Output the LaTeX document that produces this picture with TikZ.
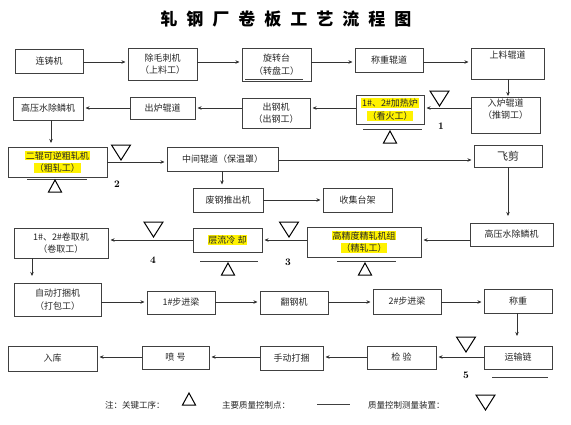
\documentclass[tikz,border=0pt]{standalone}
\usepackage{fontspec}
\newfontfamily\cjk{Noto Sans CJK SC}
\usetikzlibrary{arrows.meta}
\newcommand\hl[1]{{\setlength{\fboxsep}{0.6pt}\colorbox{yellow}{#1}}}
\tikzset{
  box/.style={draw=black!75, line width=0.9pt, inner sep=0pt, outer sep=0pt,
    font=\cjk\fontsize{9}{12.5}\selectfont, text=black!85, align=center},
  bw/.style={minimum width=#1pt},
  bh/.style={minimum height=#1pt},
  arr/.style={-{Stealth[length=4pt,width=3.5pt]}, draw=black!80, line width=0.8pt, shorten >=2.5pt},
  tri/.style={draw=black, line width=1pt, line join=miter},
  qline/.style={draw=black!75, line width=1pt},
  num/.style={font=\bfseries\fontsize{10}{12}\selectfont, inner sep=0pt},
  leg/.style={font=\cjk\fontsize{8.5}{10}\selectfont, text=black!85, anchor=west, inner sep=0pt},
  downtri/.pic={\draw[tri] (-9.5,0) -- (9.5,0) -- (0,15) -- cycle;},
  uptri/.pic={\draw[tri] (-6.5,0) -- (6.5,0) -- (0,-12) -- cycle;},
}
\begin{document}
\begin{tikzpicture}[x=1pt,y=-1pt]
\useasboundingbox[fill=white] (0,0) rectangle (571,424);
% title
\node[font=\cjk\bfseries\fontsize{17}{20}\selectfont, inner sep=0pt] (title) at (286,19)
  {轧\kern9pt 钢\kern9pt 厂\kern9pt 卷\kern9pt 板\kern9pt 工\kern9pt 艺\kern9pt 流\kern9pt 程\kern9pt 图};
% row A
\node[box,bw=68,bh=24] (a1) at (49,61) {连铸机};
\node[box,bw=69,bh=32] (a2) at (162.5,64) {除毛刺机\\（上料工）};
\node[box,bw=69,bh=33] (a3) at (276.5,64.5) {旋转台\\（转盘工）};
\node[box,bw=68,bh=24] (a4) at (389,60) {称重辊道};
\node[box,bw=73,bh=31] (a5) at (507.5,63.5) {上料辊道\\[2pt]\strut};
\draw[qline] (245,79) -- (303,79);
\draw[arr] (a1.east |- 0,62) -- (a2.west |- 0,62);
\draw[arr] (a2.east |- 0,62) -- (a3.west |- 0,62);
\draw[arr] (a3.east |- 0,62) -- (a4.west |- 0,62);
\draw[arr] (a4.east |- 0,62) -- (a5.west |- 0,62);
% row B
\node[box,bw=70,bh=23] (b1) at (48,108.5) {高压水除鳞机};
\node[box,bw=65,bh=22] (b2) at (162.5,108) {出炉辊道};
\node[box,bw=68,bh=30] (b3) at (276,113) {出钢机\\（出钢工）};
\node[box,bw=68,bh=29] (b4) at (390,109.5) {\hl{1\#、2\#加热炉}\\\hl{（看火工）}};
\node[box,bw=69,bh=36] (b5) at (505.5,115) {入炉辊道\\（推钢工）\\[-4pt]\strut};
\draw[arr, shorten >=1pt] (a5.south -| 508,0) -- (b5.north -| 508,0);
\draw[arr] (b5.west |- 0,108) -- (b4.east |- 0,108);
\draw[arr] (b4.west |- 0,108) -- (b3.east |- 0,108);
\draw[arr] (b3.west |- 0,108) -- (b2.east |- 0,108);
\draw[arr] (b2.west |- 0,108) -- (b1.east |- 0,108);
\draw[qline] (363,129) -- (422,129);
\pic at (390,143) {uptri};
\pic at (439.5,91) {downtri};
\node[num] (n1) at (441,126) {1};
% row C
\node[box,bw=99,bh=30] (c1) at (57.5,162) {\hl{二辊可逆粗轧机}\\\hl{（粗轧工）}};
\node[box,bw=111,bh=24] (c2) at (222.5,159) {中间辊道（保温罩）};
\node[box,bw=68,bh=22,font=\cjk\fontsize{11}{13}\selectfont] (c3) at (508,156) {飞剪};
\draw[arr, shorten >=4pt] (b1.south -| 51,0) -- (c1.north -| 51,0);
\draw[arr] (c1.east |- 0,162) -- (c2.west |- 0,162);
\draw[arr] (c2.east |- 0,160) -- (c3.west |- 0,160);
\draw[qline] (27,179) -- (87,179);
\pic at (55,192) {uptri};
\pic at (121,145) {downtri};
\node[num] (n2) at (117,184) {2};
% row D
\node[box,bw=70,bh=24] (d1) at (228,200) {废钢推出机};
\node[box,bw=69,bh=24] (d2) at (357.5,200) {收集台架};
\draw[arr, shorten >=3.5pt] (c2.south -| 222,0) -- (d1.north -| 222,0);
\draw[arr] (d1.east |- 0,200) -- (d2.west |- 0,200);
% row E
\node[box,bw=83,bh=23] (e4) at (511.5,234.5) {高压水除鳞机};
\node[box,bw=114,bh=30] (e3) at (364,242) {\hl{高精度精轧机组}\\\hl{（精轧工）}};
\node[box,bw=69,bh=24] (e2) at (227.5,240) {\hl{层流冷 却}};
\node[box,bw=94,bh=30] (e1) at (61,243) {1\#、2\#卷取机\\（卷取工）};
\draw[arr, shorten >=7pt] (c3.south -| 508,0) -- (e4.north -| 508,0);
\draw[arr] (e4.west |- 0,240) -- (e3.east |- 0,240);
\draw[arr] (e3.west |- 0,240) -- (e2.east |- 0,240);
\draw[arr] (e2.west |- 0,240) -- (e1.east |- 0,240);
\draw[qline] (337,261) -- (396,261);
\pic at (365,275) {uptri};
\draw[qline] (200,261) -- (258,261);
\pic at (228,275) {uptri};
\pic at (289,222) {downtri};
\pic at (153.5,222) {downtri};
\node[num] (n3) at (288,262) {3};
\node[num] (n4) at (153,260) {4};
% row F
\node[box,bw=87,bh=33] (f1) at (57.5,299.5) {自动打捆机\\（打包工）};
\node[box,bw=68,bh=23] (f2) at (181,302.5) {1\#步进梁};
\node[box,bw=68,bh=23] (f3) at (294,302.5) {翻钢机};
\node[box,bw=68,bh=25] (f4) at (407,301.5) {2\#步进梁};
\node[box,bw=68,bh=24] (f5) at (518,301) {称重};
\draw[arr, shorten >=7pt] (e1.south -| 32,0) -- (f1.north -| 32,0);
\draw[arr] (f1.east |- 0,302) -- (f2.west |- 0,302);
\draw[arr] (f2.east |- 0,302) -- (f3.west |- 0,302);
\draw[arr] (f3.east |- 0,302) -- (f4.west |- 0,302);
\draw[arr] (f4.east |- 0,302) -- (f5.west |- 0,302);
% row G
\node[box,bw=68,bh=23] (g5) at (518,357.5) {运输链};
\node[box,bw=69,bh=23] (g4) at (401.5,357.5) {检 验};
\node[box,bw=63,bh=24] (g3) at (291.5,358) {手动打捆};
\node[box,bw=67,bh=23] (g2) at (175.5,357.5) {喷 号};
\node[box,bw=89,bh=25] (g1) at (52.5,358.5) {入库};
\draw[arr, shorten >=10pt] (f5.south -| 517,0) -- (g5.north -| 517,0);
\draw[arr] (g5.west |- 0,357) -- (g4.east |- 0,357);
\draw[arr] (g4.west |- 0,357) -- (g3.east |- 0,357);
\draw[arr] (g3.west |- 0,357) -- (g2.east |- 0,357);
\draw[arr] (g2.west |- 0,357) -- (g1.east |- 0,357);
\draw[qline] (492,377) -- (548,377);
\pic at (466,337) {downtri};
\node[num] (n5) at (466,375) {5};
% legend
\node[leg] (l1) at (105,405) {注：关键工序：};
\pic at (189,405) {uptri};
\node[leg] (l2) at (222,405) {主要质量控制点：};
\draw[qline] (317,404) -- (350,404);
\node[leg] (l3) at (368,405) {质量控制测量装置：};
\pic at (485.5,395) {downtri};
\end{tikzpicture}
\end{document}
